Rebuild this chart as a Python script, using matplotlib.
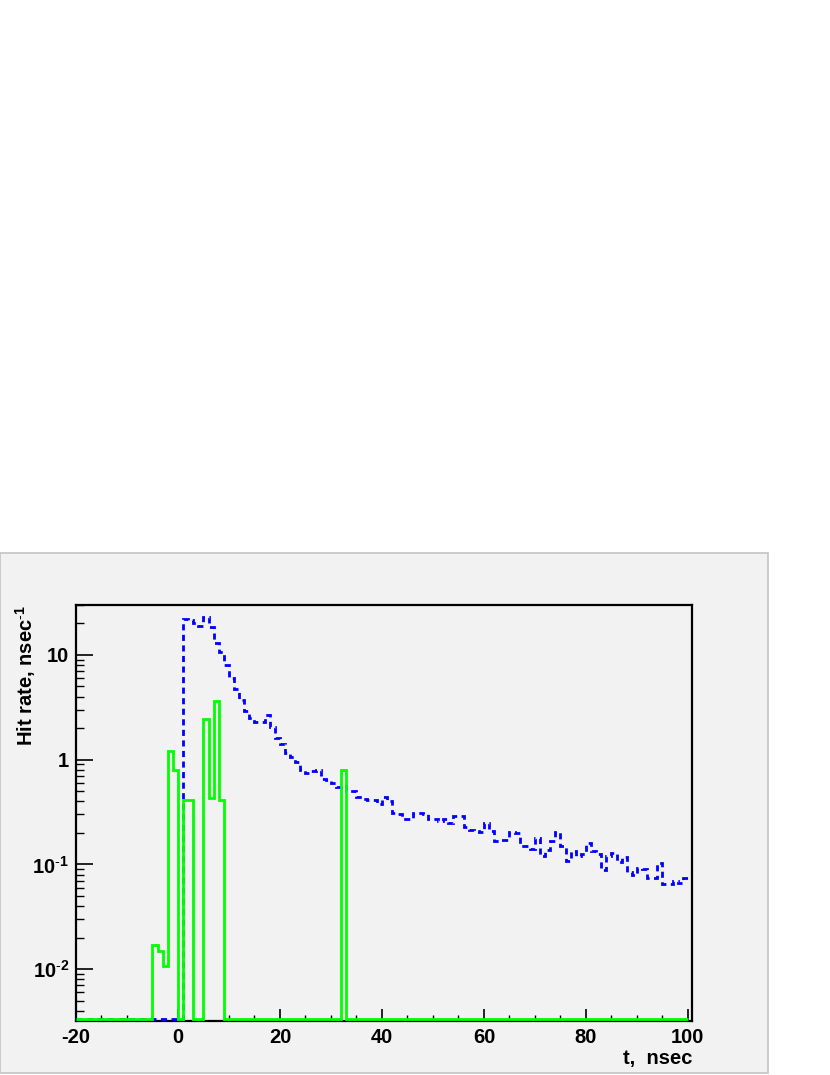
import matplotlib
matplotlib.use("Agg")
import matplotlib.pyplot as plt
import numpy as np
from matplotlib.patches import Rectangle
from matplotlib.ticker import MultipleLocator, LogLocator, FixedLocator, FuncFormatter, NullFormatter

plt.rcParams["font.family"] = ["Liberation Sans", "DejaVu Sans"]
plt.rcParams["mathtext.fontset"] = "custom"
plt.rcParams["mathtext.rm"] = "Liberation Sans"
plt.rcParams["mathtext.bf"] = "Liberation Sans:bold"
plt.rcParams["axes.unicode_minus"] = False

# 1 nsec bins from -20 to 100
t_lo, t_hi = -20, 100

# blue (dashed): hit rate for bins t = 1 .. 99
blue_first_bin = 1
blue_rate = [
    22.0, 21.5, 20.0, 19.0, 23.0, 18.5, 13.0, 10.7, 8.1, 6.0,
    4.7, 3.7, 2.9, 2.5, 2.3, 2.3, 2.7, 2.05, 1.6, 1.42,
    1.17, 1.05, 0.96, 0.80, 0.74, 0.78, 0.80, 0.66, 0.645, 0.60,
    0.55, 0.56, 0.50, 0.50, 0.44, 0.42, 0.41, 0.41, 0.38, 0.44,
    0.40, 0.31, 0.30, 0.27, 0.27, 0.31, 0.31, 0.30, 0.27, 0.27,
    0.26, 0.27, 0.25, 0.29, 0.29, 0.23, 0.215, 0.21, 0.205, 0.25,
    0.21, 0.166, 0.17, 0.17, 0.205, 0.20, 0.15, 0.15, 0.139, 0.18,
    0.12, 0.136, 0.166, 0.205, 0.15, 0.107, 0.133, 0.12, 0.125, 0.16,
    0.133, 0.127, 0.088, 0.12, 0.13, 0.105, 0.117, 0.084, 0.079, 0.092,
    0.09, 0.075, 0.074, 0.104, 0.065, 0.065, 0.069, 0.066, 0.075,
]

# green (solid): only non-empty bins (lower edge, rate)
green_bins = [-5, -4, -3, -2, -1, 1, 2, 5, 6, 7, 8, 32]
green_rate = [0.017, 0.015, 0.0107, 1.2, 0.8, 0.41, 0.41, 2.45, 0.43, 3.6, 0.41, 0.8]

y_min, y_max = 0.0032, 30.0
floor = y_min * 1.035  # empty bins drawn on the bottom edge, like ROOT

edges = np.arange(t_lo, t_hi + 1)
blue = np.full(len(edges) - 1, floor)
blue[blue_first_bin - t_lo: blue_first_bin - t_lo + len(blue_rate)] = blue_rate
green = np.full(len(edges) - 1, floor)
for b, r in zip(green_bins, green_rate):
    green[b - t_lo] = r

fig = plt.figure(figsize=(8.3, 10.75), dpi=100)
fig.add_artist(Rectangle((0, 0.002), 768 / 830, 520 / 1075, transform=fig.transFigure,
                         facecolor="#f2f2f2", edgecolor="#c4c4c4", lw=1.2, zorder=0))

ax = fig.add_axes([76 / 830, 54 / 1075, 616 / 830, 416 / 1075])
ax.set_facecolor("#f2f2f2")

ax.stairs(blue, edges, baseline=None, color="#0000ff", lw=2.0, linestyle=(0, (2.2, 1.6)), zorder=3)
ax.stairs(green, edges, baseline=None, color="#00ff00", lw=2.0, zorder=4)

ax.set_yscale("log")
ax.set_xlim(-20, 100.8)
ax.set_ylim(y_min, y_max)

for s in ax.spines.values():
    s.set_linewidth(1.6)
    s.set_color("black")

ax.xaxis.set_major_locator(MultipleLocator(20))
ax.xaxis.set_minor_locator(MultipleLocator(5))
ax.yaxis.set_major_locator(FixedLocator([0.01, 0.1, 1, 10]))
ax.yaxis.set_minor_locator(LogLocator(base=10, subs=np.arange(2, 10)))
ax.yaxis.set_minor_formatter(NullFormatter())

ylabels = {0.01: r"$\mathbf{10^{\text{-}2}}$", 0.1: r"$\mathbf{10^{\text{-}1}}$", 1: "1", 10: "10"}
ax.yaxis.set_major_formatter(FuncFormatter(lambda v, p: ylabels.get(round(v, 4), "")))

ax.tick_params(axis="both", which="both", direction="in", top=False, right=False, color="black")
ax.tick_params(axis="x", which="major", length=9, width=1.2, pad=5, labelsize=14.5)
ax.tick_params(axis="x", which="minor", length=4.5, width=1.0)
ax.tick_params(axis="y", which="major", length=12, width=1.2, pad=5, labelsize=14.5)
ax.tick_params(axis="y", which="minor", length=6, width=1.0)
for lab in ax.get_xticklabels() + ax.get_yticklabels():
    lab.set_fontweight("bold")

ax.set_xlabel("t,  nsec", fontsize=14.5, fontweight="bold", loc="right")
ax.xaxis.set_label_coords(1.0, -0.068)
ax.set_ylabel(r"Hit rate, nsec$^{\mathbf{\text{-}1}}$", fontsize=14.5, fontweight="bold", loc="top")
ax.yaxis.set_label_coords(-0.062, 1.0)

fig.savefig("out.png", dpi=100)
